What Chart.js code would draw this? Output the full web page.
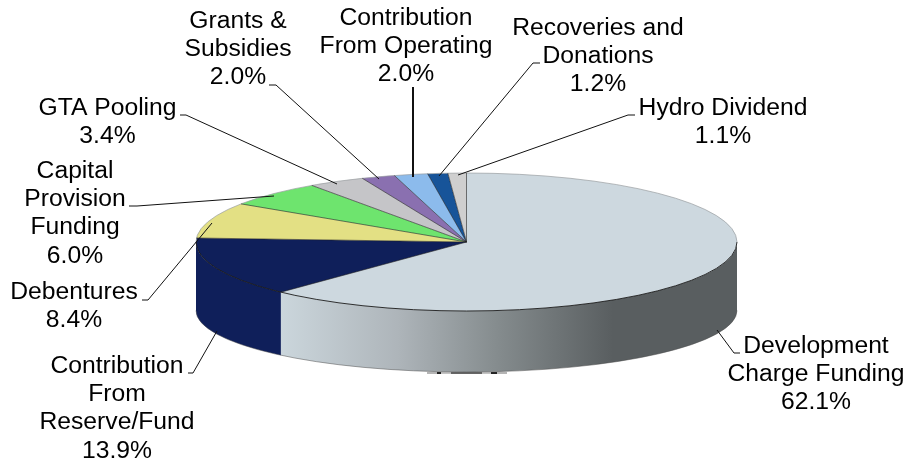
<!DOCTYPE html>
<html>
<head>
<meta charset="utf-8">
<title>Funding sources</title>
<script src="https://cdn.jsdelivr.net/npm/chart.js@4/dist/chart.umd.min.js"></script>
<style>
  html, body { margin:0; padding:0; background:#fff; }
  canvas { display:block; }
</style>
</head>
<body>
<canvas id="fundingPie" width="906" height="461"></canvas>
<script>
// ======== Data ========
const categories = [
  'Development Charge Funding','Contribution From Reserve/Fund','Debentures','Capital Provision Funding',
  'GTA Pooling','Grants & Subsidies','Contribution From Operating','Recoveries and Donations','Hydro Dividend'
];
const shares = [62.1,13.9,8.4,6.0,3.4,2.0,2.0,1.2,1.1];
const labelLines = [
  ['Development','Charge Funding'],['Contribution','From','Reserve/Fund'],['Debentures'],['Capital','Provision','Funding'],
  ['GTA Pooling'],['Grants &','Subsidies'],['Contribution','From Operating'],['Recoveries and','Donations'],['Hydro Dividend']
];
const sliceColors = ['#cdd8df','#0f1f5a','#e3e084','#6ee46e','#c5c5c8','#8a70b0','#8cbbec','#175499','#cfcfcf'];

// ======== Layout of the tilted pie (page pixels) ========
const TOP = {x:466.5, y:242, rx:270.5, ry:69};
const BOTTOM = {y:310.5, ry:61.5};
const FONT = '24.7px "Liberation Sans", Arial, sans-serif';
const LINE_H = 28.2;
// centre x, first baseline, per slice
const labelPos = [[816,353],[117,373],[74,299],[75,178],[107.5,115],[238,28],[406,25],[598,35],[723,115]];
// leader polylines, per slice
const leaders = [
  [[740,353],[734,353],[717,330]],
  [[188,373],[193,373],[217,331]],
  [[142,300],[148,300],[212,223]],
  [[129,206],[137,206],[274,196]],
  [[180,115],[186,115],[337,184]],
  [[269,85],[276,85],[379,179]],
  [[413,87],[413,177]],
  [[540,63],[533,63],[439,176]],
  [[635,115],[628,115],[458,175]]
];
// speckle under the front edge
const bottomSpeck = [[427,437,'#b5b5b5'],[437,441,'#222'],[441,451,'#c4c4c4'],[451,482,'#666'],[482,491,'#c4c4c4'],[491,497,'#222'],[497,507,'#b5b5b5']];

function wallPath(ctx, a0, a1) {
  ctx.beginPath();
  ctx.ellipse(TOP.x, TOP.y, TOP.rx, TOP.ry, 0, a0, a1);
  ctx.ellipse(TOP.x, BOTTOM.y, TOP.rx, BOTTOM.ry, 0, a1, a0, true);
  ctx.closePath();
}

const tiltedPie = {
  id:'tiltedPie',
  beforeDatasetsDraw(chart) {
    const ctx = chart.ctx;
    const arcs = chart.getDatasetMeta(0).data;

    bottomSpeck.forEach(function(s) {
      ctx.fillStyle = s[2];
      ctx.fillRect(s[0], 372, s[1]-s[0], 2);
    });

    // side wall, only the front half of the disc shows
    const shade = ctx.createLinearGradient(281,0,613,0);
    shade.addColorStop(0,'#cbd6dc');
    shade.addColorStop(0.35,'#aeb5ba');
    shade.addColorStop(0.65,'#858c8e');
    shade.addColorStop(1,'#595e60');
    arcs.forEach(function(arc, i) {
      const a0 = Math.max(arc.startAngle, 0), a1 = Math.min(arc.endAngle, Math.PI);
      if (a1 <= a0) return;
      wallPath(ctx, a0, a1);
      ctx.fillStyle = i === 0 ? shade : sliceColors[i];
      ctx.fill();
    });

    // squash the library's circle into the top ellipse
    const first = arcs[0];
    ctx.save();
    ctx.translate(TOP.x, TOP.y);
    ctx.scale(TOP.rx/first.outerRadius, TOP.ry/first.outerRadius);
    ctx.translate(-first.x, -first.y);
  },
  afterDatasetsDraw(chart) {
    const ctx = chart.ctx;
    ctx.restore();
    const arcs = chart.getDatasetMeta(0).data;

    // rim
    ctx.lineWidth = 0.7;
    ctx.strokeStyle = '#9a9ea1';
    ctx.beginPath();
    ctx.ellipse(TOP.x, TOP.y, TOP.rx, TOP.ry, 0, Math.PI, 2*Math.PI);
    ctx.stroke();
    ctx.strokeStyle = '#1a1a1a';
    ctx.lineWidth = 0.9;
    ctx.beginPath();
    ctx.ellipse(TOP.x, TOP.y, TOP.rx, TOP.ry, 0, 0, Math.PI);
    ctx.stroke();
    ctx.strokeStyle = '#4a4a4a';
    ctx.lineWidth = 0.5;
    ctx.beginPath();
    ctx.ellipse(TOP.x, BOTTOM.y, TOP.rx, BOTTOM.ry, 0, 0, Math.PI);
    ctx.stroke();

    // slice edges on the top face
    arcs.forEach(function(arc) {
      ctx.beginPath();
      ctx.moveTo(TOP.x, TOP.y);
      ctx.lineTo(TOP.x + TOP.rx*Math.cos(arc.startAngle), TOP.y + TOP.ry*Math.sin(arc.startAngle));
      ctx.strokeStyle = 'rgba(30,30,30,0.75)';
      ctx.lineWidth = 0.8;
      ctx.stroke();
    });

    // leaders
    ctx.strokeStyle = '#111';
    leaders.forEach(function(pts, i) {
      ctx.lineWidth = i === 6 ? 2 : 1;
      ctx.beginPath();
      pts.forEach(function(p, k) { k ? ctx.lineTo(p[0],p[1]) : ctx.moveTo(p[0],p[1]); });
      ctx.stroke();
    });

    // labels
    ctx.font = FONT;
    ctx.fillStyle = '#000';
    ctx.textAlign = 'center';
    ctx.textBaseline = 'alphabetic';
    labelLines.forEach(function(lines, i) {
      const all = lines.concat(shares[i].toFixed(1) + '%');
      all.forEach(function(t, k) {
        ctx.fillText(t, labelPos[i][0], labelPos[i][1] + k*LINE_H);
      });
    });
  }
};

new Chart(document.getElementById('fundingPie').getContext('2d'), {
  type:'pie',
  data:{
    labels:categories,
    datasets:[{ data:shares, backgroundColor:sliceColors, borderWidth:0, clip:false }]
  },
  options:{
    responsive:false,
    animation:false,
    layout:{ padding:10 },
    plugins:{ legend:{display:false}, tooltip:{enabled:false}, title:{display:false} }
  },
  plugins:[tiltedPie]
});
</script>
</body>
</html>
